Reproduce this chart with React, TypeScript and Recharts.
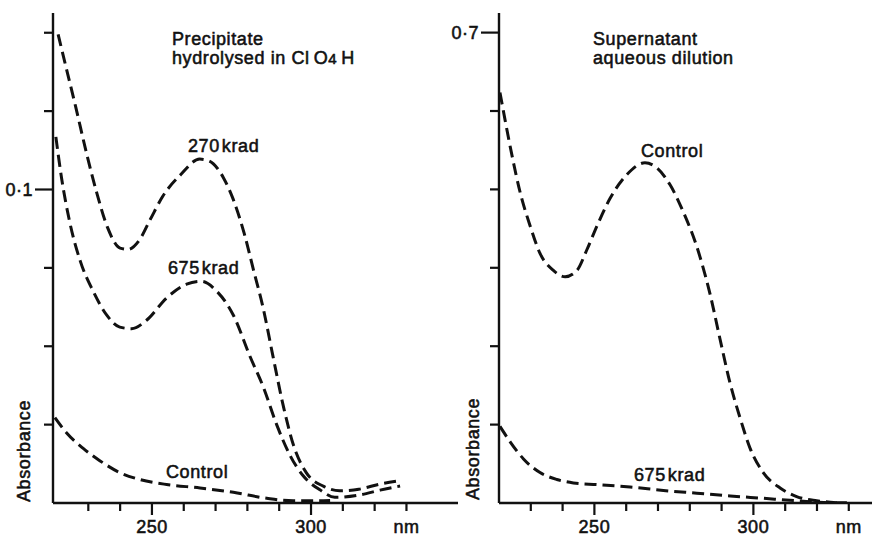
import React from 'react';
import { LineChart, Line, XAxis, YAxis } from 'recharts';

// ---------- data (wavelength nm / absorbance) ----------
const L270_NM = [220.5, 223, 226, 229.5, 232.5, 236, 240, 242.5, 246, 249.5, 253.5, 259, 265, 268, 272.5, 275.5, 279, 282, 285, 288, 291.5, 294.5, 298.5, 304, 309, 315, 322, 328];
const L270_ABS = [0.1495, 0.139, 0.1265, 0.1113, 0.0995, 0.088, 0.0813, 0.0809, 0.0838, 0.0905, 0.098, 0.1047, 0.1097, 0.1091, 0.1037, 0.097, 0.086, 0.074, 0.062, 0.047, 0.03, 0.0184, 0.0097, 0.0053, 0.0039, 0.0044, 0.0061, 0.0071];

const L675_NM = [219.8, 221.6, 224.2, 227.4, 231.5, 235.8, 239.9, 243.6, 248.3, 254.6, 260.9, 265.6, 270.3, 275.6, 280.8, 285, 289.2, 293.4, 297.6, 302.8, 307.5, 315.4, 321.7, 328];
const L675_ABS = [0.1168, 0.1036, 0.0894, 0.0774, 0.0676, 0.0599, 0.0561, 0.0556, 0.0583, 0.0654, 0.0698, 0.0707, 0.0676, 0.0599, 0.0468, 0.037, 0.025, 0.0152, 0.0086, 0.0042, 0.0018, 0.0026, 0.0041, 0.0054];

const LCTRL_NM = [219.5, 223.2, 228.4, 233.6, 239.9, 246.2, 254.6, 265.1, 275.6, 286.1, 294.4, 301.8, 306];
const LCTRL_ABS = [0.0272, 0.0223, 0.0174, 0.0135, 0.0097, 0.0075, 0.0059, 0.0048, 0.0034, 0.0015, 0.0007, 0.0007, 0.0008];

const RCTRL_NM = [220.3, 221.9, 224, 226.6, 229.8, 232.9, 237.1, 240.8, 244.5, 247.6, 250.8, 254.9, 260.2, 265.9, 269.6, 273.8, 278, 282.2, 286.4, 289.5, 292.7, 295.8, 299, 303.1, 308.4, 313.6, 319.9, 326.2];
const RCTRL_ABS = [0.6236, 0.5887, 0.545, 0.497, 0.4533, 0.4184, 0.3966, 0.3886, 0.3966, 0.4227, 0.4533, 0.4883, 0.5188, 0.534, 0.5276, 0.5058, 0.4708, 0.427, 0.366, 0.3092, 0.2523, 0.2087, 0.1694, 0.1388, 0.1191, 0.1082, 0.1029, 0.1004];

const R675_NM = [220.3, 223.5, 227.7, 232.9, 238.2, 243.4, 250.8, 261.2, 271.7, 282.2, 292.7, 303.1, 313.6, 324.1, 329.4];
const R675_ABS = [0.1977, 0.1781, 0.1562, 0.1388, 0.13, 0.1256, 0.1235, 0.1204, 0.116, 0.1125, 0.109, 0.106, 0.1029, 0.1004, 0.1004];

// ---------- ticks ----------
const X_TICKS = [230, 240, 250, 260, 270, 280, 290, 300, 310, 320, 330];
const X_TICK_LABELS: Record<number, string> = { 250: '250', 300: '300', 330: 'nm' };
const LEFT_Y_TICKS = [0.025, 0.05, 0.075, 0.1, 0.125, 0.15];
const LEFT_Y_LABELS = [{ v: 0.1, t: '0·1' }];
const RIGHT_Y_TICKS = [0.2, 0.3, 0.4, 0.5, 0.6, 0.7];
const RIGHT_Y_LABELS = [{ v: 0.7, t: '0·7' }];

const LEFT_X_DOMAIN = [218.9, 346.2];
const RIGHT_X_DOMAIN = [220, 337.3];
const LEFT_Y_DOMAIN = [0, 0.1563];
const RIGHT_Y_DOMAIN = [0.1, 0.725];

const toSeries = (nm: number[], abs: number[]) => nm.map((x, i) => ({ nm: x, a: abs[i] }));

const FONT = '"Liberation Sans", Arial, Helvetica, sans-serif';
const INK = '#111';
const DASH = '12 6';

const txt = {
  fontFamily: FONT,
  fontSize: 18,
  fill: INK,
  stroke: INK,
  strokeWidth: 0.55,
  letterSpacing: 0.6,
} as const;

const makeXTick = () => (props: any) => {
  const { x, y, payload } = props;
  const lbl = X_TICK_LABELS[payload.value];
  const major = lbl && lbl !== 'nm';
  return (
    <g>
      <line x1={x} y1={y} x2={x} y2={y + (major ? 12 : 8)} stroke={INK} strokeWidth={2.2} />
      {lbl && (
        <text x={x} y={y + 30} textAnchor="middle" {...txt} letterSpacing={0.5}>
          {lbl}
        </text>
      )}
    </g>
  );
};

const makeYTick = (labels: { v: number; t: string }[]) => (props: any) => {
  const { x, y, payload } = props;
  const found = labels.find((l) => Math.abs(l.v - payload.value) < 1e-6);
  return (
    <g>
      <line x1={x - (found ? 18 : 9)} y1={y} x2={x} y2={y} stroke={INK} strokeWidth={2.2} />
      {found && (
        <text x={x - 20} y={y + 6} textAnchor="end" {...txt} letterSpacing={0.5}>
          {found.t}
        </text>
      )}
    </g>
  );
};

const lineProps = {
  type: 'monotone' as const,
  dataKey: 'a',
  stroke: INK,
  strokeWidth: 3,
  strokeDasharray: DASH,
  dot: false,
  isAnimationActive: false,
};

export default function App() {
  return (
    <div style={{ position: 'absolute', left: 0, top: 0, width: 872, height: 536, background: '#fff' }}>
      <div style={{ position: 'absolute', left: 0, top: 0 }}>
        <LineChart width={460} height={536} margin={{ top: 13, right: 2, bottom: 0, left: 0 }}>
          <XAxis
            dataKey="nm"
            type="number"
            domain={LEFT_X_DOMAIN}
            allowDataOverflow
            ticks={X_TICKS}
            interval={0}
            height={33}
            tickSize={0}
            tickMargin={0}
            tickLine={false}
            axisLine={{ stroke: INK, strokeWidth: 2.4 }}
            tick={makeXTick()}
          />
          <YAxis
            type="number"
            domain={LEFT_Y_DOMAIN}
            allowDataOverflow
            ticks={LEFT_Y_TICKS}
            interval={0}
            width={53}
            tickSize={0}
            tickMargin={0}
            tickLine={false}
            axisLine={{ stroke: INK, strokeWidth: 2.4 }}
            tick={makeYTick(LEFT_Y_LABELS)}
          />
          <Line {...lineProps} data={toSeries(L270_NM, L270_ABS)} />
          <Line {...lineProps} data={toSeries(L675_NM, L675_ABS)} />
          <Line {...lineProps} data={toSeries(LCTRL_NM, LCTRL_ABS)} />
        </LineChart>
      </div>
      <div style={{ position: 'absolute', left: 440, top: 0 }}>
        <LineChart width={432} height={536} margin={{ top: 13, right: 0, bottom: 0, left: 0 }}>
          <XAxis
            dataKey="nm"
            type="number"
            domain={RIGHT_X_DOMAIN}
            allowDataOverflow
            ticks={X_TICKS}
            interval={0}
            height={33}
            tickSize={0}
            tickMargin={0}
            tickLine={false}
            axisLine={{ stroke: INK, strokeWidth: 2.4 }}
            tick={makeXTick()}
          />
          <YAxis
            type="number"
            domain={RIGHT_Y_DOMAIN}
            allowDataOverflow
            ticks={RIGHT_Y_TICKS}
            interval={0}
            width={59}
            tickSize={0}
            tickMargin={0}
            tickLine={false}
            axisLine={{ stroke: INK, strokeWidth: 2.4 }}
            tick={makeYTick(RIGHT_Y_LABELS)}
          />
          <Line {...lineProps} data={toSeries(RCTRL_NM, RCTRL_ABS)} />
          <Line {...lineProps} data={toSeries(R675_NM, R675_ABS)} />
        </LineChart>
      </div>
      <svg width={872} height={536} style={{ position: 'absolute', left: 0, top: 0, pointerEvents: 'none' }}>
        <text x={172} y={45} {...txt}>Precipitate</text>
        <text x={172} y={64} {...txt}>
          hydrolysed in Cl<tspan dx={4}>O</tspan><tspan fontSize={15}>4</tspan><tspan dx={4}>H</tspan>
        </text>
        <text x={188} y={152} {...txt}>270<tspan dx={2}>krad</tspan></text>
        <text x={168} y={274} {...txt}>675<tspan dx={2}>krad</tspan></text>
        <text x={166} y={478} {...txt}>Control</text>
        <text x={30} y={502} {...txt} transform="rotate(-90 30 502)">Absorbance</text>

        <text x={593} y={45} {...txt}>Supernatant</text>
        <text x={593} y={64} {...txt}>aqueous dilution</text>
        <text x={641} y={157} {...txt}>Control</text>
        <text x={634} y={481} {...txt}>675<tspan dx={2}>krad</tspan></text>
        <text x={479} y={500} {...txt} transform="rotate(-90 479 500)">Absorbance</text>
      </svg>
    </div>
  );
}
